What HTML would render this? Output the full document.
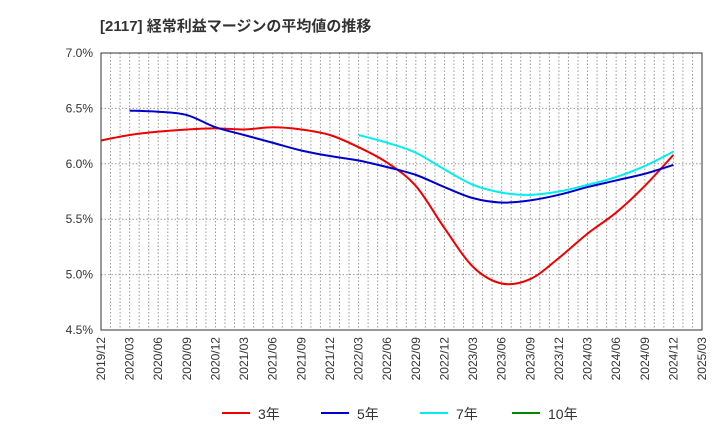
<!DOCTYPE html>
<html><head><meta charset="utf-8"><style>
body{margin:0;background:#fff;font-family:"Liberation Sans","Noto Sans CJK JP",sans-serif;}
</style></head><body>
<svg id="c" width="720" height="440" xmlns="http://www.w3.org/2000/svg">
<text x="100" y="31" font-size="15" font-weight="bold" fill="#333">[2117]  経常利益マージンの平均値の推移</text>
<g id="grid"></g>
<g id="yt"></g>
<g id="xt"></g>
<g id="series"></g>
<rect x="101" y="53" width="601" height="277" fill="none" stroke="#333" stroke-width="1"/>
<g>
<g><line x1="222" y1="413" x2="250" y2="413" stroke="#e00" stroke-width="2"/><text x="258" y="419" font-size="14" fill="#333">3年</text></g>
<g><line x1="321" y1="413" x2="349" y2="413" stroke="#00c" stroke-width="2"/><text x="357" y="419" font-size="14" fill="#333">5年</text></g>
<g><line x1="420" y1="413" x2="448" y2="413" stroke="#0ee" stroke-width="2"/><text x="456" y="419" font-size="14" fill="#333">7年</text></g>
<g><line x1="512" y1="413" x2="540" y2="413" stroke="#080" stroke-width="2"/><text x="548" y="419" font-size="14" fill="#333">10年</text></g>
</g>
</svg>
<script>
const xLabels=["2019/12","2020/03","2020/06","2020/09","2020/12","2021/03","2021/06","2021/09","2021/12","2022/03","2022/06","2022/09","2022/12","2023/03","2023/06","2023/09","2023/12","2024/03","2024/06","2024/09","2024/12","2025/03"];
const yTicks=[4.5,5.0,5.5,6.0,6.5,7.0];
const s3=[6.21,6.26,6.29,6.31,6.32,6.31,6.33,6.31,6.26,6.15,6.01,5.80,5.42,5.07,4.92,4.96,5.15,5.37,5.56,5.80,6.08];
const s3Start=0;
const s5=[6.48,6.47,6.44,6.33,6.26,6.19,6.12,6.07,6.03,5.97,5.90,5.79,5.69,5.65,5.67,5.72,5.79,5.85,5.91,5.99];
const s5Start=1;
const s7=[6.26,6.19,6.10,5.95,5.81,5.74,5.72,5.75,5.81,5.88,5.98,6.11];
const s7Start=9;
const NS="http://www.w3.org/2000/svg";
const L=101,R=702,T=53,B=330,M=63;
const xs=m=>L+m*(R-L)/M;
const ys=v=>B-(v-4.5)*(B-T)/2.5;
const grid=document.getElementById('grid'),yt=document.getElementById('yt'),xt=document.getElementById('xt'),ser=document.getElementById('series');
for(let m=1;m<M;m++){const l=document.createElementNS(NS,'line');


l.setAttribute('x1',xs(m));l.setAttribute('x2',xs(m));l.setAttribute('y1',T);l.setAttribute('y2',B);l.setAttribute('stroke','#999');l.setAttribute('stroke-dasharray','1.5,2');grid.appendChild(l);}
yTicks.forEach(v=>{const l=document.createElementNS(NS,'line');


l.setAttribute('x1',L);l.setAttribute('x2',R);l.setAttribute('y1',ys(v));l.setAttribute('y2',ys(v));l.setAttribute('stroke','#999');l.setAttribute('stroke-dasharray','1.5,2');grid.appendChild(l);
const t=document.createElementNS(NS,'text');


t.setAttribute('x',L-8);t.setAttribute('y',ys(v)+4);t.setAttribute('text-anchor','end');t.setAttribute('font-size','12');t.setAttribute('fill','#333');t.textContent=v.toFixed(1)+'%';yt.appendChild(t);});
xLabels.forEach((s,i)=>{const t=document.createElementNS(NS,'text');


const x=xs(i*3)+4,y=B+7;t.setAttribute('transform','translate('+x+','+y+') rotate(-90)');t.setAttribute('text-anchor','end');t.setAttribute('font-size','12');t.setAttribute('fill','#333');t.textContent=s;xt.appendChild(t);});
function path(d,start,color,name){const p=d.map((v,i)=>[xs((start+i)*3),ys(v)]);
let s='M'+p[0][0]+','+p[0][1];
for(let i=0;i<p.length-1;i++){const p0=p[i-1]||p[i],p1=p[i],p2=p[i+1],p3=p[i+2]||p2;
s+=' C'+(p1[0]+(p2[0]-p0[0])/6)+','+(p1[1]+(p2[1]-p0[1])/6)+' '+(p2[0]-(p3[0]-p1[0])/6)+','+(p2[1]-(p3[1]-p1[1])/6)+' '+p2[0]+','+p2[1];}
const e=document.createElementNS(NS,'path');


e.setAttribute('d',s);e.setAttribute('fill','none');e.setAttribute('stroke',color);e.setAttribute('stroke-width','2');ser.appendChild(e);}
path(s3,s3Start,'#e00','line-3y');
path(s5,s5Start,'#00c','line-5y');
path(s7,s7Start,'#0ee','line-7y');
</script>
</body></html>
